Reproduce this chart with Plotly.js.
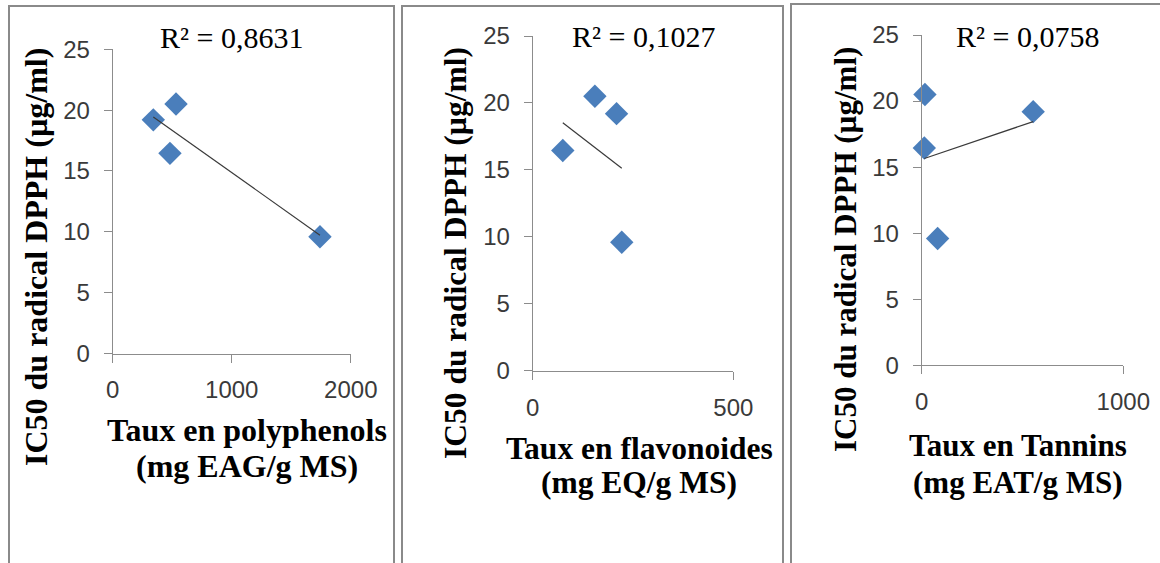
<!DOCTYPE html>
<html><head><meta charset="utf-8">
<script src="https://cdn.plot.ly/plotly-3.0.1.min.js"></script>
<style>html,body{margin:0;padding:0;background:#fff;overflow:hidden}#chart{width:1160px;height:563px}</style>
</head><body><div id="chart"></div>
<script>
// ---- data ----
const ic50 = [19.2, 20.5, 16.45, 9.6];          // IC50 DPPH (µg/ml), 4 samples
const polyphenols = [341, 532, 481, 1741];      // mg EAG/g MS
const flavonoides = [209, 155, 75, 222];        // mg EQ/g MS
const tannins = [553, 16, 13, 79];              // mg EAT/g MS
const r2Labels = ['R² = 0,8631', 'R² = 0,1027', 'R² = 0,0758'];
const yTitle = 'IC50 du radical DPPH (µg/ml)';
const xTitleLine1 = ['Taux en polyphenols', 'Taux en flavonoides', 'Taux en Tannins'];
const xTitleLine2 = ['(mg EAG/g MS)', '(mg EQ/g MS)', '(mg EAT/g MS)'];
const xMax = [2000, 500, 1000];
const xTickVals = [[0, 1000, 2000], [0, 500], [0, 1000]];
const yTickVals = [0, 5, 10, 15, 20, 25];

const xSeries = [polyphenols, flavonoides, tannins];

// ---- layout geometry (pixels) ----
const W = 1160, H = 563;
const X = p => p / W, Y = p => (H - p) / H;
const boxes = [
  {l: 112.7, r: 350.8, t: 49.3, b: 353.5},
  {l: 532.7, r: 733.3, t: 36, b: 370.7},
  {l: 921.7, r: 1123.3, t: 35, b: 365.3}
];
const frames = [{l: 9, r: 394, t: 6}, {l: 402, r: 783, t: 6}, {l: 791, r: 1175, t: 4}];
const r2Pos = [{x: 231, y: 37}, {x: 643, y: 36}, {x: 1027, y: 36}];
const yTitlePos = [{x: 36, y: 257}, {x: 455, y: 253}, {x: 845, y: 250}];
const titleSize = [32, 31.5, 31];
const xTitlePos = [{x: 247, y1: 430, y2: 466}, {x: 639, y1: 448, y2: 482}, {x: 1018, y1: 446, y2: 482}];

function linearFit(x, y) {
  const n = x.length;
  const mx = x.reduce((a, b) => a + b, 0) / n;
  const my = y.reduce((a, b) => a + b, 0) / n;
  let sxy = 0, sxx = 0;
  for (let i = 0; i < n; i++) { sxy += (x[i] - mx) * (y[i] - my); sxx += (x[i] - mx) ** 2; }
  const a = sxy / sxx, b = my - a * mx;
  const x0 = Math.min(...x), x1 = Math.max(...x);
  return {x: [x0, x1], y: [a * x0 + b, a * x1 + b]};
}

const axisColor = '#8c8c8c';
const tickFont = {family: 'Liberation Sans, Arial, sans-serif', size: 24, color: '#3a3a3a'};
const serif = 'Liberation Serif, Times New Roman, serif';

const traces = [];
const layout = {
  width: W, height: H, margin: {l: 0, r: 0, t: 0, b: 0},
  paper_bgcolor: '#fff', plot_bgcolor: 'rgba(0,0,0,0)',
  showlegend: false, shapes: [], annotations: []
};

for (let i = 0; i < 3; i++) {
  const sfx = i ? String(i + 1) : '';
  const b = boxes[i];
  layout['xaxis' + sfx] = {
    domain: [X(b.l), X(b.r)], range: [0, xMax[i]], tickvals: xTickVals[i],
    ticks: 'outside', ticklen: 8, tickcolor: axisColor, tickwidth: 1,
    showline: true, linecolor: axisColor, linewidth: 1,
    showgrid: false, zeroline: false, tickfont: tickFont, ticklabelstandoff: 7,
    anchor: 'y' + sfx, fixedrange: true
  };
  layout['yaxis' + sfx] = {
    domain: [Y(b.b), Y(b.t)], range: [0, 25], tickvals: yTickVals,
    ticks: 'outside', ticklen: 8, tickcolor: axisColor, tickwidth: 1,
    showline: true, linecolor: axisColor, linewidth: 1,
    showgrid: false, zeroline: false, tickfont: tickFont, ticklabelstandoff: 9,
    anchor: 'x' + sfx, fixedrange: true
  };
  traces.push({
    type: 'scatter', mode: 'markers', x: xSeries[i], y: ic50,
    xaxis: 'x' + sfx, yaxis: 'y' + sfx, cliponaxis: false,
    marker: {symbol: 'diamond', size: 18, color: '#4A7EBB', line: {width: 0}}
  });
  const f = linearFit(xSeries[i], ic50);
  traces.push({
    type: 'scatter', mode: 'lines', x: f.x, y: f.y,
    xaxis: 'x' + sfx, yaxis: 'y' + sfx, cliponaxis: false,
    line: {color: '#3a3a3a', width: 1.2}
  });
  const fr = frames[i];
  layout.shapes.push({type: 'rect', xref: 'paper', yref: 'paper',
    x0: X(fr.l), x1: X(fr.r), y0: -0.05, y1: Y(fr.t),
    line: {color: '#8a8a8a', width: 2}});
  layout.annotations.push({xref: 'paper', yref: 'paper', x: X(r2Pos[i].x), y: Y(r2Pos[i].y),
    xanchor: 'center', yanchor: 'middle', showarrow: false, text: r2Labels[i],
    font: {family: serif, size: 30, color: '#000'}});
  layout.annotations.push({xref: 'paper', yref: 'paper', x: X(yTitlePos[i].x), y: Y(yTitlePos[i].y),
    xanchor: 'center', yanchor: 'middle', showarrow: false, text: '<b>' + yTitle + '</b>', textangle: -90,
    font: {family: serif, size: titleSize[i], color: '#000'}});
  layout.annotations.push({xref: 'paper', yref: 'paper', x: X(xTitlePos[i].x), y: Y(xTitlePos[i].y1),
    xanchor: 'center', yanchor: 'middle', showarrow: false, text: '<b>' + xTitleLine1[i] + '</b>',
    font: {family: serif, size: titleSize[i], color: '#000'}});
  layout.annotations.push({xref: 'paper', yref: 'paper', x: X(xTitlePos[i].x), y: Y(xTitlePos[i].y2),
    xanchor: 'center', yanchor: 'middle', showarrow: false, text: '<b>' + xTitleLine2[i] + '</b>',
    font: {family: serif, size: titleSize[i], color: '#000'}});
}

Plotly.newPlot('chart', traces, layout, {staticPlot: true, displayModeBar: false});
</script>
</body></html>
